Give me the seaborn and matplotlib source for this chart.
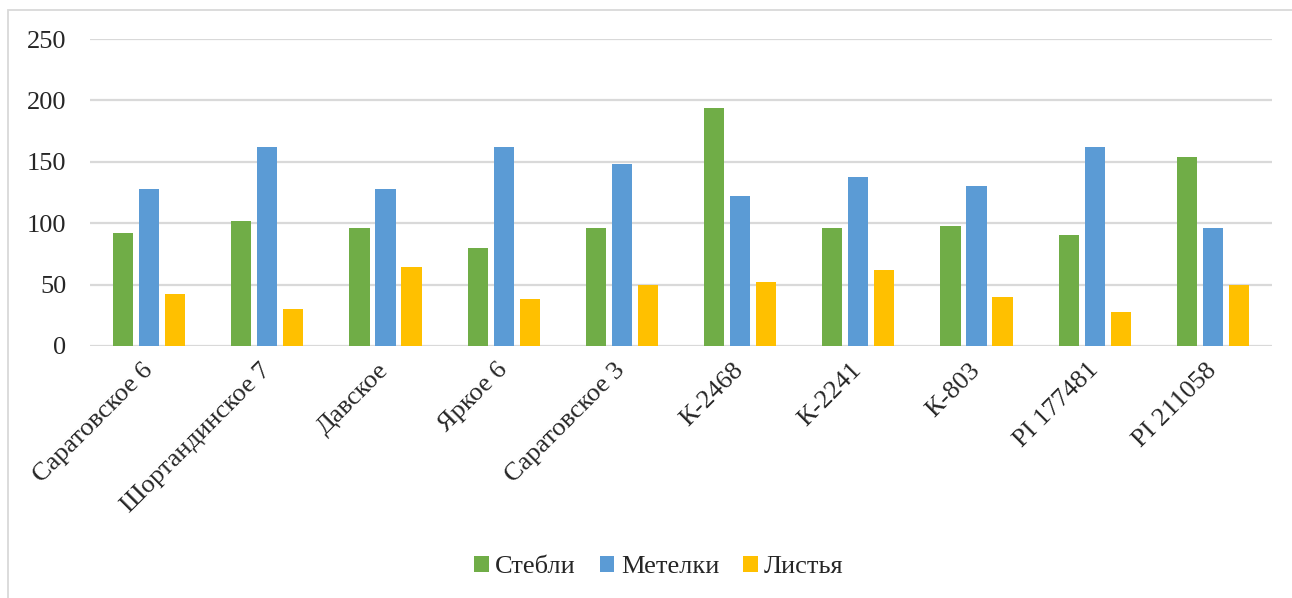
import matplotlib
matplotlib.use("Agg")
import matplotlib.pyplot as plt
from matplotlib.patches import Rectangle
import seaborn as sns
import pandas as pd

# Sorts and measured values per plant part
varieties = ["Саратовское 6", "Шортандинское 7", "Давское", "Яркое 6", "Саратовское 3",
             "К-2468", "К-2241", "К-803", "PI 177481", "PI 211058"]
stems = [92, 102, 96, 80, 96, 194, 96, 98, 90, 154]
panicles = [128, 162, 128, 162, 148, 122, 138, 130, 162, 96]
leaves = [42, 30, 64, 38, 50, 52, 62, 40, 28, 50]
series_names = ["Стебли", "Метелки", "Листья"]
y_ticks = [0, 50, 100, 150, 200, 250]

colors = ["#70AD47", "#5B9BD5", "#FFC000"]

df = pd.DataFrame({
    "variety": varieties * 3,
    "part": [series_names[0]] * len(varieties) + [series_names[1]] * len(varieties)
            + [series_names[2]] * len(varieties),
    "value": stems + panicles + leaves,
})

sns.set_theme(style="white")
plt.rcParams["font.family"] = ["Liberation Serif", "DejaVu Serif"]

W, H = 1292, 598
fig = plt.figure(figsize=(W / 100, H / 100), dpi=100)
ax = fig.add_axes([90 / W, 1 - 346 / H, (1272 - 90) / W, (346 - 39) / H])

sns.barplot(data=df, x="variety", y="value", hue="part", order=varieties,
            hue_order=series_names, palette=colors, width=0.66, gap=0.23,
            saturation=1, ax=ax, legend=True, edgecolor="none")

ax.set_ylim(0, 250)
ax.set_xlim(-0.5, len(varieties) - 0.5)
ax.set_yticks(y_ticks)
ax.set_yticklabels([str(t) for t in y_ticks], fontsize=19)
ax.yaxis.grid(True, color="#D9D9D9", linewidth=1.6)
ax.set_axisbelow(True)
ax.tick_params(axis="both", length=0)
ax.tick_params(axis="y", pad=17)
ax.tick_params(axis="x", pad=15)
ax.set_xlabel("")
ax.set_ylabel("")
for s in ax.spines.values():
    s.set_visible(False)

ax.set_xticks(range(len(varieties)))
ax.set_xticklabels(varieties, rotation=45, ha="right", va="center",
                   rotation_mode="anchor", fontsize=19)

handles, labels = ax.get_legend_handles_labels()
ax.legend_.remove()
fig.legend(handles, labels, loc="center", bbox_to_anchor=(659 / W, 1 - 567 / H),
           ncol=3, frameon=False, fontsize=19, handlelength=0.55, handleheight=0.55,
           handletextpad=0.25, columnspacing=0.9)

# Light outline around the chart area
fig.patches.append(Rectangle((8 / W, -0.2), 1.5, 1.2 - 10 / H, transform=fig.transFigure,
                             fill=False, edgecolor="#D9D9D9", linewidth=1.3))

fig.savefig("out.png", dpi=100, facecolor="white")
